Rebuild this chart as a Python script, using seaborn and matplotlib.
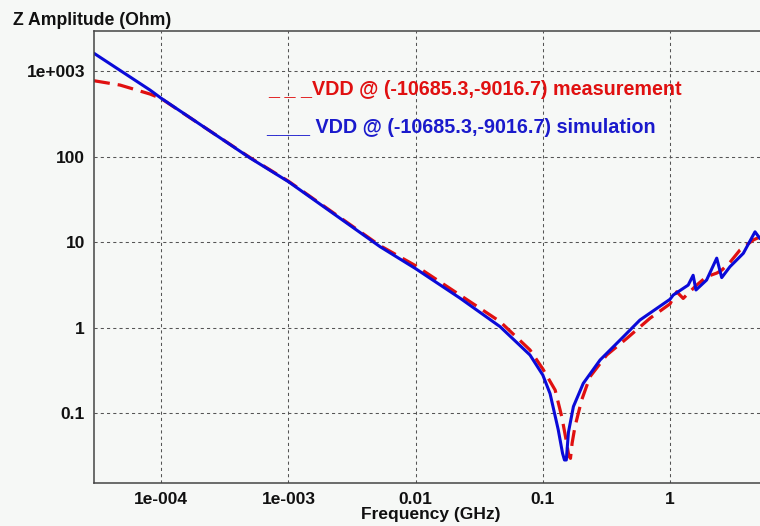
import numpy as np
import pandas as pd
import matplotlib
matplotlib.use("Agg")
import matplotlib.pyplot as plt
import seaborn as sns

# measurement curve (red dashed), frequency in GHz, impedance in Ohm
meas_freq = [2.96e-5, 4.74e-5, 8.16e-5, 1.0e-4, 5.0e-4, 1.0e-3, 5.25e-3, 1.0e-2,
             2.23e-2, 4.61e-2, 7.93e-2, 0.100, 0.125, 0.141, 0.152, 0.160, 0.165,
             0.170, 0.179, 0.202, 0.235, 0.318, 0.457, 0.696, 1.00, 1.13, 1.27,
             1.39, 1.62, 1.94, 2.33, 2.55, 2.96, 3.55, 4.52, 5.10]
meas_z = [768, 684, 537, 475, 97, 51.5, 9.1, 5.3,
          2.41, 1.18, 0.55, 0.33, 0.187, 0.091, 0.05, 0.032, 0.0298,
          0.045, 0.07, 0.143, 0.268, 0.48, 0.75, 1.29, 1.9, 2.63, 2.2,
          2.52, 3.15, 3.94, 4.35, 4.7, 5.8, 8.1, 10.6, 11.5]

# simulation curve (blue solid)
sim_freq = [2.96e-5, 8.16e-5, 1.0e-4, 5.0e-4, 1.0e-3, 5.25e-3, 1.0e-2, 2.23e-2,
            4.61e-2, 7.93e-2, 0.100, 0.114, 0.132, 0.143, 0.148, 0.153, 0.159,
            0.174, 0.208, 0.282, 0.430, 0.580, 1.00, 1.06, 1.39, 1.52, 1.60,
            1.94, 2.33, 2.55, 2.96, 3.77, 4.66, 5.10]
sim_z = [1607, 598, 479, 96, 50.8, 8.85, 4.9, 2.22,
         1.03, 0.48, 0.28, 0.17, 0.065, 0.034, 0.0285, 0.0285, 0.06,
         0.12, 0.224, 0.42, 0.785, 1.23, 2.15, 2.41, 3.15, 4.1, 2.76,
         3.61, 6.5, 3.85, 5.16, 7.4, 13.2, 11.0]

x_ticks = [1e-4, 1e-3, 1e-2, 1e-1, 1]
x_tick_labels = ["1e-004", "1e-003", "0.01", "0.1", "1"]
y_ticks = [0.1, 1, 10, 100, 1000]
y_tick_labels = ["0.1", "1", "10", "100", "1e+003"]

meas_label = "_ _ _VDD @ (-10685.3,-9016.7) measurement"
sim_label = "____ VDD @ (-10685.3,-9016.7) simulation"

sns.set_style("white")
plt.rcParams["font.family"] = ["Liberation Sans", "DejaVu Sans"]
plt.rcParams["font.weight"] = "bold"

bg = "#f6f8f6"
red = "#e01010"
blue = "#0a0ad8"

fig = plt.figure(figsize=(7.6, 5.26), dpi=100, facecolor=bg)
ax = fig.add_axes([0.1237, 0.0817, 0.8763, 0.8593])
ax.set_facecolor(bg)
ax.set_xscale("log")
ax.set_yscale("log")

df_meas = pd.DataFrame({"freq": meas_freq, "z": meas_z})
df_sim = pd.DataFrame({"freq": sim_freq, "z": sim_z})

sns.lineplot(data=df_meas, x="freq", y="z", ax=ax, color=red, linewidth=2.3,
             estimator=None, sort=False)
ax.lines[-1].set_dashes([5, 2.5])
sns.lineplot(data=df_sim, x="freq", y="z", ax=ax, color=blue, linewidth=2.2,
             estimator=None, sort=False)

ax.set_xlim(2.96e-5, 5.1)
ax.set_ylim(0.01534, 2925)

ax.set_xticks(x_ticks, x_tick_labels)
ax.set_yticks(y_ticks, y_tick_labels)
ax.minorticks_off()
ax.tick_params(length=0, pad=6.5, labelsize=12.5, labelcolor="#111111")
ax.grid(True, which="major", color="#555555", linestyle=(0, (3, 3)), linewidth=0.75)

for side in ["left", "bottom", "top"]:
    ax.spines[side].set_color("#444444")
    ax.spines[side].set_linewidth(1.1)
ax.spines["right"].set_visible(False)

ax.set_ylabel("")
ax.set_xlabel("Frequency (GHz)", fontsize=12.5, fontweight="bold", color="#111111")
ax.xaxis.set_label_coords(0.505, -0.0796)
ax.xaxis.label.set_va("baseline")

fig.text(13 / 760, 1 - 25 / 526, "Z Amplitude (Ohm)", fontsize=12.7,
         fontweight="bold", color="#111111", va="baseline")
fig.text(268 / 760, 1 - 95 / 526, meas_label, fontsize=14.2, fontweight="bold",
         color=red, va="baseline")
fig.text(266 / 760, 1 - 133 / 526, sim_label, fontsize=14.2, fontweight="bold",
         color="#1a1acc", va="baseline")

fig.savefig("out.png", dpi=100, facecolor=bg)
